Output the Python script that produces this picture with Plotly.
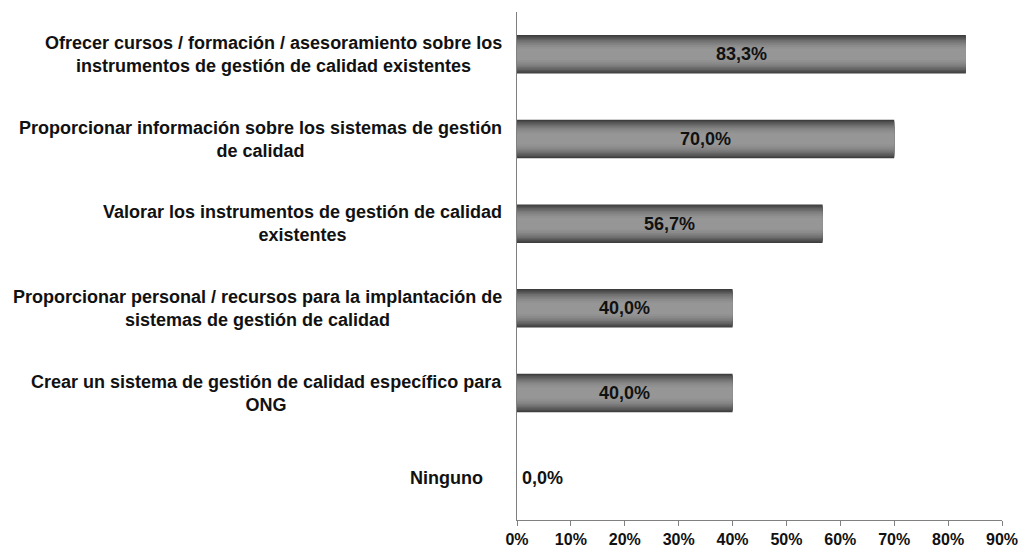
import plotly.graph_objects as go

# Survey answers (top to bottom) and share of respondents
categories = [
    "Ofrecer cursos / formación / asesoramiento sobre los<br>instrumentos de gestión de calidad existentes",
    "Proporcionar información sobre los sistemas de gestión<br>de calidad",
    "Valorar los instrumentos de gestión de calidad<br>existentes",
    "Proporcionar personal / recursos para la implantación de<br>sistemas de gestión de calidad",
    "Crear un sistema de gestión de calidad específico para<br>ONG",
    "Ninguno",
]
values = [83.3, 70.0, 56.7, 40.0, 40.0, 0.0]
tick_vals = [0, 10, 20, 30, 40, 50, 60, 70, 80, 90]
tick_text = [f"{v}%" for v in tick_vals]

FONT = "Liberation Sans, Arial, sans-serif"
BAR_W = 0.455

fig = go.Figure()

# Cylinder-like shading: stacked overlay bars, each narrower and lighter
layers = [
    (1.00, 62),
    (0.94, 74),
    (0.88, 86),
    (0.81, 98),
    (0.74, 110),
    (0.66, 121),
    (0.58, 131),
    (0.49, 139),
    (0.40, 145),
    (0.30, 150),
]
ypos = list(range(len(categories)))
for frac, shade in layers:
    fig.add_trace(go.Bar(
        x=values,
        y=ypos,
        orientation="h",
        width=[BAR_W * frac] * len(values),
        marker=dict(color=f"rgb({shade},{shade},{shade})", line=dict(width=0)),
        hoverinfo="skip",
        showlegend=False,
    ))

cat_font = dict(family=FONT, size=18, color="#111111", weight="bold")
val_font = dict(family=FONT, size=18, color="#111111", weight="bold")

annotations = []
# value labels
for i, v in enumerate(values):
    label = f"{v:.1f}".replace(".", ",") + "%"
    if v > 0:
        annotations.append(dict(x=v / 2, y=i, xref="x", yref="y", text=label,
                                showarrow=False, xanchor="center", yanchor="middle",
                                font=val_font))
    else:
        annotations.append(dict(x=0, y=i, xref="x", yref="y", text=label,
                                showarrow=False, xanchor="left", yanchor="middle",
                                xshift=3, font=val_font))

# category labels, centred block aligned to the axis
for i, c in enumerate(categories):
    annotations.append(dict(x=0, y=i, xref="x", yref="y", text=c, showarrow=False,
                            xanchor="right", yanchor="middle", align="center",
                            xshift=-13 if c != "Ninguno" else -32,
                            font=cat_font))

fig.update_layout(
    width=1025, height=552,
    margin=dict(l=517, r=23, t=12, b=32),
    paper_bgcolor="white", plot_bgcolor="white",
    barmode="overlay",
    annotations=annotations,
    xaxis=dict(range=[0, 90], tickvals=tick_vals, ticktext=tick_text,
               showgrid=False, zeroline=False, showline=True, linecolor="#808080",
               linewidth=1, ticks="outside", ticklen=5, tickcolor="#808080",
               automargin=False,
               tickfont=dict(family=FONT, size=16, color="#111111", weight="bold")),
    yaxis=dict(range=[5.5, -0.5], showticklabels=False, showgrid=False,
               zeroline=False, showline=True, linecolor="#808080", linewidth=1,
               ticks="", automargin=False),
)

fig.write_html("out.html")
